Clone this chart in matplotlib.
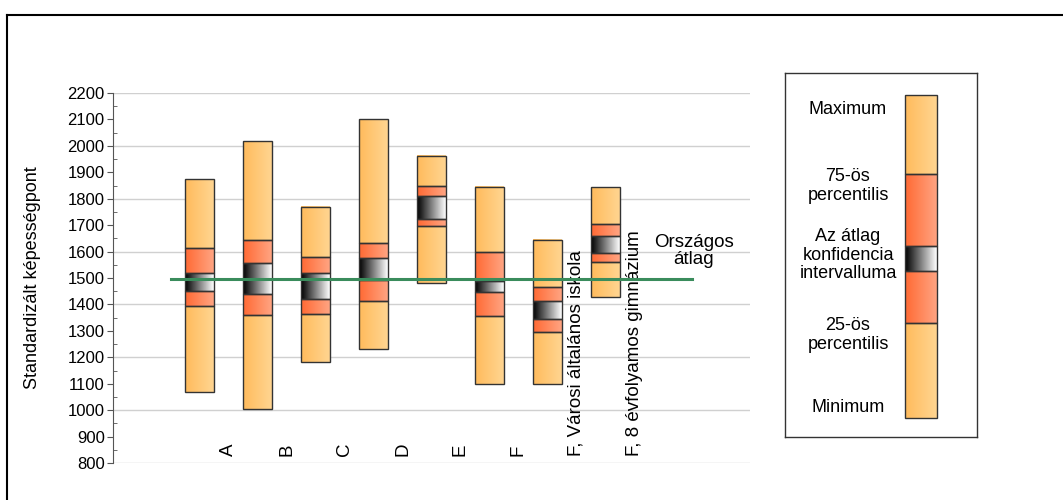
import matplotlib
matplotlib.use("Agg")
import matplotlib.pyplot as plt
import numpy as np
from matplotlib.colors import LinearSegmentedColormap
from matplotlib.patches import Rectangle
from matplotlib.lines import Line2D

plt.rcParams['font.family'] = ['Liberation Sans', 'DejaVu Sans']

# data
labels = ['A', 'B', 'C', 'D', 'E', 'F',
          'F, Városi általános iskola', 'F, 8 évfolyamos gimnázium']
minimum = [1070, 1003, 1181, 1231, 1481, 1100, 1100, 1428]
p25 = [1393, 1359, 1363, 1412, 1697, 1355, 1294, 1562]
ci_low = [1452, 1439, 1419, 1492, 1724, 1446, 1345, 1593]
ci_high = [1520, 1556, 1518, 1574, 1810, 1490, 1413, 1659]
p75 = [1615, 1645, 1578, 1634, 1847, 1597, 1466, 1703]
maximum = [1873, 2017, 1769, 2102, 1963, 1843, 1644, 1843]
orszagos_atlag = 1495

cm_light = LinearSegmentedColormap.from_list('light', ['#FFBB5C', '#FFD591'])
cm_red = LinearSegmentedColormap.from_list('red', ['#FF6A34', '#FFA482'])
cm_ci = LinearSegmentedColormap.from_list('ci', ['#000000', '#FFFFFF'])
grad = np.linspace(0, 1, 64).reshape(1, -1)


def segment(ax, x0, x1, y0, y1, cmap):
    ax.imshow(grad, cmap=cmap, extent=[x0, x1, y0, y1], aspect='auto',
              interpolation='bilinear', zorder=2)
    ax.add_patch(Rectangle((x0, min(y0, y1)), x1 - x0, abs(y1 - y0),
                           fill=False, edgecolor='#333333', lw=1.0, zorder=3))


def box(ax, x0, x1, lo, q1, cl, ch, q3, hi):
    segment(ax, x0, x1, lo, q1, cm_light)
    segment(ax, x0, x1, q1, cl, cm_red)
    segment(ax, x0, x1, cl, ch, cm_ci)
    segment(ax, x0, x1, ch, q3, cm_red)
    segment(ax, x0, x1, q3, hi, cm_light)


fig = plt.figure(figsize=(10.63, 5.0), dpi=100)

# frame of the picture
fig.add_artist(Line2D([7 / 1063, 7 / 1063], [0, 1 - 15 / 500], color='black', lw=1.5))
fig.add_artist(Line2D([7 / 1063, 1], [1 - 15 / 500, 1 - 15 / 500], color='black', lw=1.5))

ax = fig.add_axes([113 / 1063, 37 / 500, 637 / 1063, 370 / 500])
w = 0.25
for i in range(len(labels)):
    box(ax, i - w, i + w, minimum[i], p25[i], ci_low[i], ci_high[i], p75[i], maximum[i])
    ax.text(i + 0.5, 825, labels[i], rotation=90, ha='center', va='bottom',
            fontsize=13.5, zorder=3.5)

ax.plot([-0.5, len(labels) + 0.5], [orszagos_atlag, orszagos_atlag],
        color='#3A8C5C', lw=2.2, zorder=4)
ax.text(len(labels) + 0.53, 1602, 'Országos\nátlag', ha='center',
        va='center', fontsize=13.5, linespacing=1.05)

ax.set_xlim(-1.5, 9.5)
ax.set_ylim(800, 2200)
ax.set_yticks(np.arange(800, 2201, 100))
ax.set_yticks(np.arange(850, 2200, 100), minor=True)
ax.tick_params(axis='y', which='major', direction='out', length=4, labelsize=12,
               color='#555555', pad=2)
ax.tick_params(axis='y', which='minor', direction='in', length=3, color='#555555')
ax.set_xticks([])
for y in range(800, 2201, 200):
    ax.axhline(y, color='#D0D0D0', lw=1.0, zorder=0)
for s in ['top', 'right', 'bottom']:
    ax.spines[s].set_visible(False)
ax.spines['left'].set_color('#555555')

fig.text(33 / 1063, 1 - 278 / 500, 'Standardizált képességpont', rotation=90,
         ha='center', va='center', fontsize=13)

# legend box
lg = fig.add_axes([785 / 1063, 63 / 500, 192 / 1063, 364 / 500])
lg.set_xlim(0, 192)
lg.set_ylim(364, 0)
lg.set_xticks([])
lg.set_yticks([])
for s in lg.spines.values():
    s.set_color('#333333')
    s.set_linewidth(1.0)
legend_levels = [345, 250, 198, 173, 101, 22]
box(lg, 120, 152, *legend_levels)
lg.set_xlim(0, 192)
lg.set_ylim(364, 0)
legend_texts = [(37, 'Maximum'), (113, '75-ös\npercentilis'),
                (182, 'Az átlag\nkonfidencia\nintervalluma'),
                (262, '25-ös\npercentilis'), (335, 'Minimum')]
for y, t in legend_texts:
    lg.text(63, y, t, ha='center', va='center', fontsize=13, linespacing=1.15)

fig.savefig('out.png', dpi=100)
